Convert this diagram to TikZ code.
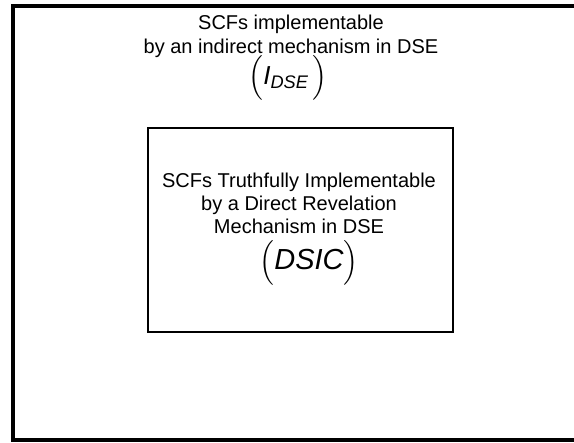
\documentclass[tikz,border=0pt]{standalone}
\usepackage{amsmath}
\usepackage{fontspec}
\setmainfont{Liberation Sans}
\usepackage{tikz}
\usetikzlibrary{positioning}
\tikzstyle{frame} = [line width=3.5pt]
\tikzstyle{setbox} = [rectangle, draw=black, line width=2pt, minimum width=305pt, minimum height=204pt, inner sep=0pt]
\tikzstyle{settext} = [align=center, font=\fontsize{20}{24}\selectfont, inner sep=0pt]

\begin{document}
\begin{tikzpicture}[x=1pt, y=-1pt]
    \useasboundingbox (0,0) rectangle (574,443);
    \fill[white] (0,0) rectangle (574,443);

        % outer set, its right side runs off the page
        \draw[frame] (574,6) -- (13,6) -- (13,440) -- (574,440);
        \node (IDSEt) [settext, anchor=north] at (291,14.5) {SCFs implementable\\by an indirect mechanism in DSE};
        \node (IDSE) [inner sep=0pt, font=\fontsize{26}{26}\selectfont] at (288,78) {$\left(\rule[-8pt]{0pt}{32pt}\textit{I}_{\textit{DSE}}\,\right)$};

        % inner set
        \node (DSICbox) [setbox] at (300.5,230) {};
        \node (DSICt) [settext, anchor=north, font=\fontsize{20}{23}\selectfont] at (299,172.5) {SCFs Truthfully Implementable\\by a Direct Revelation\\Mechanism in DSE};
        \node (DSIC) [inner sep=0pt, font=\fontsize{29}{29}\selectfont] at (309,263) {$\left(\rule[-8pt]{0pt}{31pt}\textit{DSIC}\right)$};

    \end{tikzpicture}
\end{document}
